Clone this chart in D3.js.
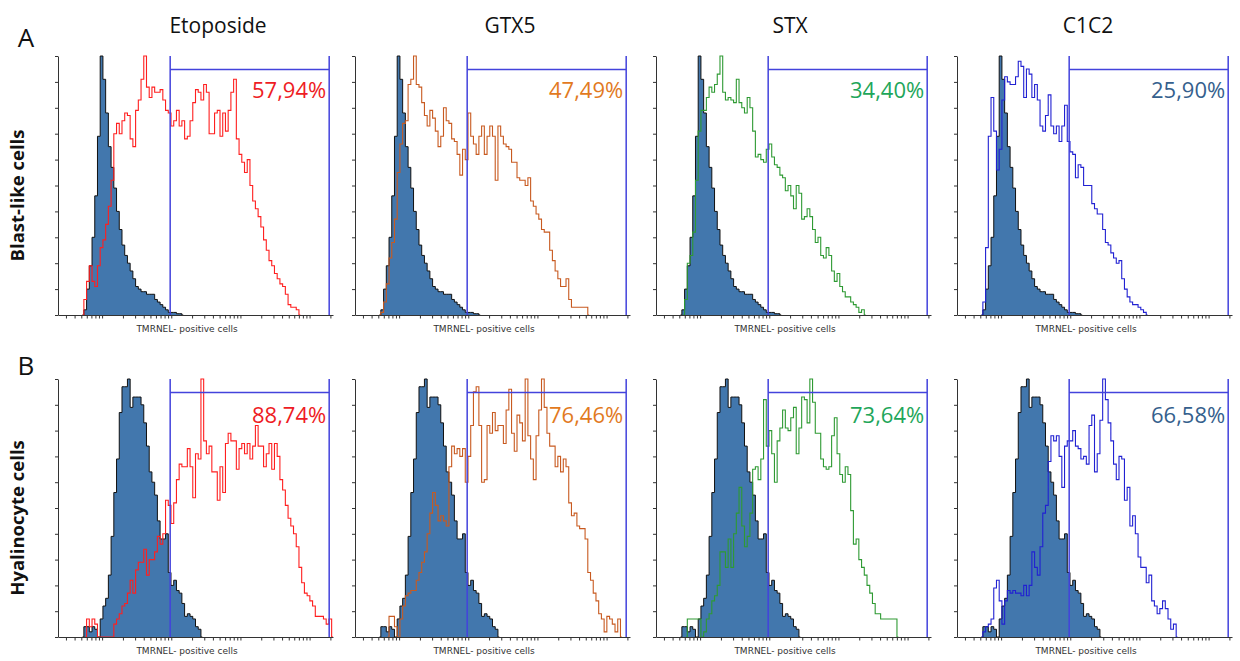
<!DOCTYPE html>
<html>
<head>
<meta charset="utf-8">
<script src="https://cdn.jsdelivr.net/npm/d3@7"></script>
<style>
  html, body { margin: 0; padding: 0; background: #fff; }
  svg { display: block; font-family: "Open Sans", sans-serif; }
</style>
</head>
<body>
<svg id="fig" width="1240" height="661"></svg>
<script>
// histogramas de citometria (TMRNEL) : control relleno azul + tratamiento en linea de color
// los valores son cuentas por canal (0-100 = % del maximo), leidos a ojo de la figura

var drugs = ["Etoposide", "GTX5", "STX", "C1C2"];
var cellTypes = ["Blast-like cells", "Hyalinocyte cells"];
var rowLetters = ["A", "B"];
var pctBlast = ["57,94%", "47,49%", "34,40%", "25,90%"];
var pctHyal = ["88,74%", "76,46%", "73,64%", "66,58%"];
var gateCh = [41.2, 99.6];   // limites del marcador, en canales
var axisLabel = "TMRNEL- positive cells";

// control (mismo en las 4 columnas de cada fila)
var ctrlBlastStart = 9;
var ctrlBlast = [0, 2, 10, 19, 30, 46, 69, 100, 91, 78,
  65, 57, 49, 40, 33, 27, 23, 20, 17, 14,
  11, 10, 9, 9, 8, 8, 8, 6, 5, 4,
  3, 2, 1, 1, 1, 0.5, 0.5, 0];
var ctrlHyalStart = 9;
var ctrlHyal = [0, 4, 4, 2, 4, 3, 0, 7, 12, 15, 24,
  39, 56, 69, 87, 97, 97, 100, 89, 93, 93,
  93, 90, 83, 74, 64, 60, 55, 45, 38, 38,
  40, 25, 20, 22, 18, 17, 13, 8, 9, 8,
  7, 4, 3, 0];

// fila A: blast-like
var blastStart = [9, 9, 10, 9];
var etoBlast = [0, 6, 13, 19, 13, 11, 19, 26, 29, 35,
  42, 52, 70, 74, 70, 75, 78, 77, 68, 65,
  79, 83, 91, 100, 88, 84, 88, 86, 86, 87,
  83, 79, 78, 73, 75, 79, 73, 75, 68, 69,
  75, 82, 87, 86, 83, 89, 86, 70, 70, 78,
  79, 69, 78, 71, 79, 86, 91, 68, 62, 59,
  55, 60, 50, 44, 41, 38, 34, 29, 25, 21,
  19, 16, 14, 12, 11, 8, 4, 3, 3, 2, 0];
var gtxBlast = [0, 1, 5, 12, 22, 28, 37, 55, 66, 74,
  75, 89, 91, 100, 89, 88, 82, 77, 73, 79,
  76, 71, 65, 69, 80, 75, 74, 68, 67, 62,
  54, 64, 60, 78, 69, 66, 62, 69, 73, 62,
  69, 73, 69, 52, 73, 69, 66, 65, 64, 59,
  59, 53, 52, 52, 50, 53, 44, 42, 39, 37,
  33, 32, 32, 25, 21, 17, 14, 11, 11, 14,
  6, 3, 3, 3, 3, 3, 3, 0];
var stxBlast = [0, 6, 20, 23, 32, 52, 71, 79, 79, 84,
  88, 86, 89, 93, 100, 86, 83, 84, 83, 82,
  91, 82, 80, 78, 84, 80, 71, 61, 62, 60,
  59, 64, 66, 61, 58, 57, 54, 53, 48, 50,
  46, 41, 50, 47, 37, 38, 41, 38, 33, 28,
  30, 23, 22, 26, 23, 17, 13, 16, 11, 9,
  7, 7, 5, 4, 3, 1, 2, 0];
var c1c2Blast = [0, 5, 26, 69, 84, 71, 56, 64, 83, 92,
  90, 89, 89, 92, 98, 96, 84, 95, 93, 84,
  89, 83, 73, 71, 77, 85, 73, 70, 73, 67,
  73, 81, 67, 63, 62, 53, 58, 57, 50, 50,
  50, 43, 41, 39, 39, 33, 28, 27, 24, 22,
  20, 21, 14, 10, 7, 5, 4, 4, 3, 2, 1, 0];

// fila B: hyalinocyte
var hyalStart = [10, 12, 11, 9];
var etoHyal = [0, 7, 4, 7, 5, 0, 0, 0, 0, 0,
  0, 5, 7, 9, 12, 13, 17, 22, 17, 26,
  29, 29, 34, 24, 30, 30, 33, 39, 36, 40,
  53, 51, 44, 52, 61, 67, 66, 66, 73, 66,
  54, 71, 69, 100, 76, 71, 74, 64, 64, 53,
  66, 56, 75, 79, 76, 76, 65, 73, 75, 71,
  75, 69, 74, 82, 74, 74, 66, 71, 75, 65,
  75, 70, 61, 57, 51, 46, 43, 40, 35, 27,
  21, 17, 16, 14, 12, 8, 8, 8, 7, 5, 7, 0];
var gtxHyal = [0, 8, 8, 4, 0, 7, 12, 16, 17, 18,
  18, 22, 25, 29, 33, 40, 48, 56, 51, 45,
  47, 45, 43, 66, 74, 71, 73, 70, 73, 60,
  70, 82, 95, 97, 82, 60, 61, 82, 79, 87,
  80, 82, 82, 75, 88, 96, 79, 72, 86, 83,
  76, 100, 78, 69, 61, 78, 88, 100, 89, 79,
  74, 74, 66, 70, 64, 69, 66, 52, 47, 48,
  43, 42, 42, 38, 25, 22, 17, 14, 9, 7,
  2, 8, 7, 5, 2, 7, 0];
var stxHyal = [0, 7, 7, 7, 7, 7, 0, 2, 7, 9,
  14, 16, 20, 33, 33, 27, 38, 27, 40, 48,
  58, 43, 35, 39, 48, 65, 66, 61, 69, 92,
  74, 80, 71, 60, 76, 81, 88, 81, 80, 85,
  89, 71, 81, 93, 92, 83, 100, 91, 79, 79,
  69, 66, 65, 66, 78, 85, 71, 63, 60, 66,
  63, 49, 36, 38, 30, 27, 24, 20, 17, 13,
  9, 9, 7, 7, 7, 7, 7, 7, 0];
var c1c2Hyal = [0, 2, 4, 5, 7, 19, 22, 14, 5, 14,
  18, 17, 18, 17, 17, 16, 20, 16, 20, 33,
  27, 24, 35, 48, 51, 68, 78, 76, 78, 70,
  58, 74, 76, 76, 80, 74, 73, 69, 70, 67,
  82, 86, 64, 71, 84, 100, 92, 83, 76, 67,
  61, 70, 69, 53, 58, 43, 47, 40, 31, 27,
  27, 21, 24, 14, 12, 9, 11, 14, 11, 7,
  3, 5, 0];

// ---- layout ----
var colX = [58, 355, 656, 957];          // posicion del eje y de cada columna
var rowTop = [56, 379];
var rowBase = [315, 637];
var PLOT_W = 275;
var CH_MAX = 101;
var ZERO_CH = 16.2;   // canal que cae en 10^0
var DEC_CH = 25.4;    // canales por decada
var titleDx = [160, 155, 134, 131];

var lineCol = ["#ff1f1f", "#c85a20", "#2e9a33", "#2121d2"];
var pctCol = ["#ee1c24", "#e27a1e", "#1ea65a", "#355f8d"];
var CTRL_FILL = "#4277ad";
var GATE_COL = "#4343dc";

var treated = [[etoBlast, gtxBlast, stxBlast, c1c2Blast], [etoHyal, gtxHyal, stxHyal, c1c2Hyal]];
var starts = [blastStart, hyalStart];
var controls = [[ctrlBlast, ctrlBlastStart], [ctrlHyal, ctrlHyalStart]];
var pcts = [pctBlast, pctHyal];

var svg = d3.select("#fig");

function toPts(arr, start) {
  return arr.map(function (v, i) { return { ch: start + i, v: v }; });
}

// ticks log: decadas mayores + menores 2..9
var logDomain = [Math.pow(10, -ZERO_CH / DEC_CH), Math.pow(10, (CH_MAX - ZERO_CH) / DEC_CH)];
var logTicks = [];
for (var e = -1; e <= 3; e++) {
  for (var m = 1; m <= 9; m++) {
    var t = m * Math.pow(10, e);
    if (t >= logDomain[0] && t <= logDomain[1] * 1.001) logTicks.push(t);
  }
}

function panel(r, c) {
  var x0 = colX[c];
  var x = d3.scaleLinear().domain([0, CH_MAX]).range([x0, x0 + PLOT_W]);
  var xLog = d3.scaleLog().domain(logDomain).range([x0, x0 + PLOT_W]);
  var y = d3.scaleLinear().domain([0, 100]).range([rowBase[r], rowTop[r]]);
  var g = svg.append("g");

  var ctrl = toPts(controls[r][0], controls[r][1]);
  var area = d3.area().x(function (d) { return x(d.ch); })
    .y0(y(0)).y1(function (d) { return y(d.v); }).curve(d3.curveStep);
  var line = d3.line().x(function (d) { return x(d.ch); })
    .y(function (d) { return y(d.v); }).curve(d3.curveStep);

  g.append("path").attr("d", area(ctrl)).attr("fill", CTRL_FILL);
  g.append("path").attr("d", line(ctrl)).attr("fill", "none")
    .attr("stroke", "#111").attr("stroke-width", 1);

  var tr = toPts(treated[r][c], starts[r][c]);
  g.append("path").attr("d", line(tr)).attr("fill", "none")
    .attr("stroke", lineCol[c]).attr("stroke-width", 1.1);

  // marcador
  var gx0 = x(gateCh[0]), gx1 = x(gateCh[1]);
  var gy = rowTop[r] + 13.5;
  g.append("path")
    .attr("d", "M" + gx0 + "," + y(0) + "V" + rowTop[r] + "M" + gx0 + "," + gy + "H" + gx1 +
      "M" + gx1 + "," + rowTop[r] + "V" + y(0))
    .attr("fill", "none").attr("stroke", GATE_COL).attr("stroke-width", 1.5);

  // ejes
  var ya = g.append("g").attr("transform", "translate(" + x0 + ",0)")
    .call(d3.axisLeft(y).tickValues(d3.range(0, 101, 10)).tickSize(3).tickSizeOuter(0).tickFormat(""));
  var xa = g.append("g").attr("transform", "translate(0," + y(0) + ")")
    .call(d3.axisBottom(xLog).tickValues(logTicks).tickSize(3.5).tickSizeOuter(0).tickFormat(""));
  [ya, xa].forEach(function (a) {
    a.selectAll("path,line").attr("stroke", "#333").attr("stroke-width", 1);
  });

  g.append("text").attr("x", x0 + 129).attr("y", rowBase[r] + 17)
    .attr("text-anchor", "middle").attr("font-family", "DejaVu Sans").attr("font-size", 9)
    .attr("fill", "#333").text(axisLabel);

  g.append("text").attr("x", gx1 - 3).attr("y", rowTop[r] + (r === 0 ? 42 : 44))
    .attr("text-anchor", "end").attr("font-size", 22).attr("fill", pctCol[c]).text(pcts[r][c]);
}

for (var r = 0; r < 2; r++) for (var c = 0; c < 4; c++) panel(r, c);

// titulos de columna
drugs.forEach(function (d, i) {
  svg.append("text").attr("x", colX[i] + titleDx[i]).attr("y", 33)
    .attr("text-anchor", "middle").attr("font-size", 21).attr("fill", "#111").text(d);
});

// letras y nombres de fila
rowLetters.forEach(function (L, i) {
  svg.append("text").attr("x", 26).attr("y", i === 0 ? 47 : 375)
    .attr("text-anchor", "middle").attr("font-size", 26).attr("fill", "#111").text(L);
  var cy = (rowTop[i] + rowBase[i]) / 2 + 10;
  svg.append("text").attr("transform", "translate(24," + cy + ") rotate(-90)")
    .attr("text-anchor", "middle").attr("font-size", 18.5).attr("font-weight", "bold")
    .attr("fill", "#111").text(cellTypes[i]);
});
</script>
</body>
</html>
